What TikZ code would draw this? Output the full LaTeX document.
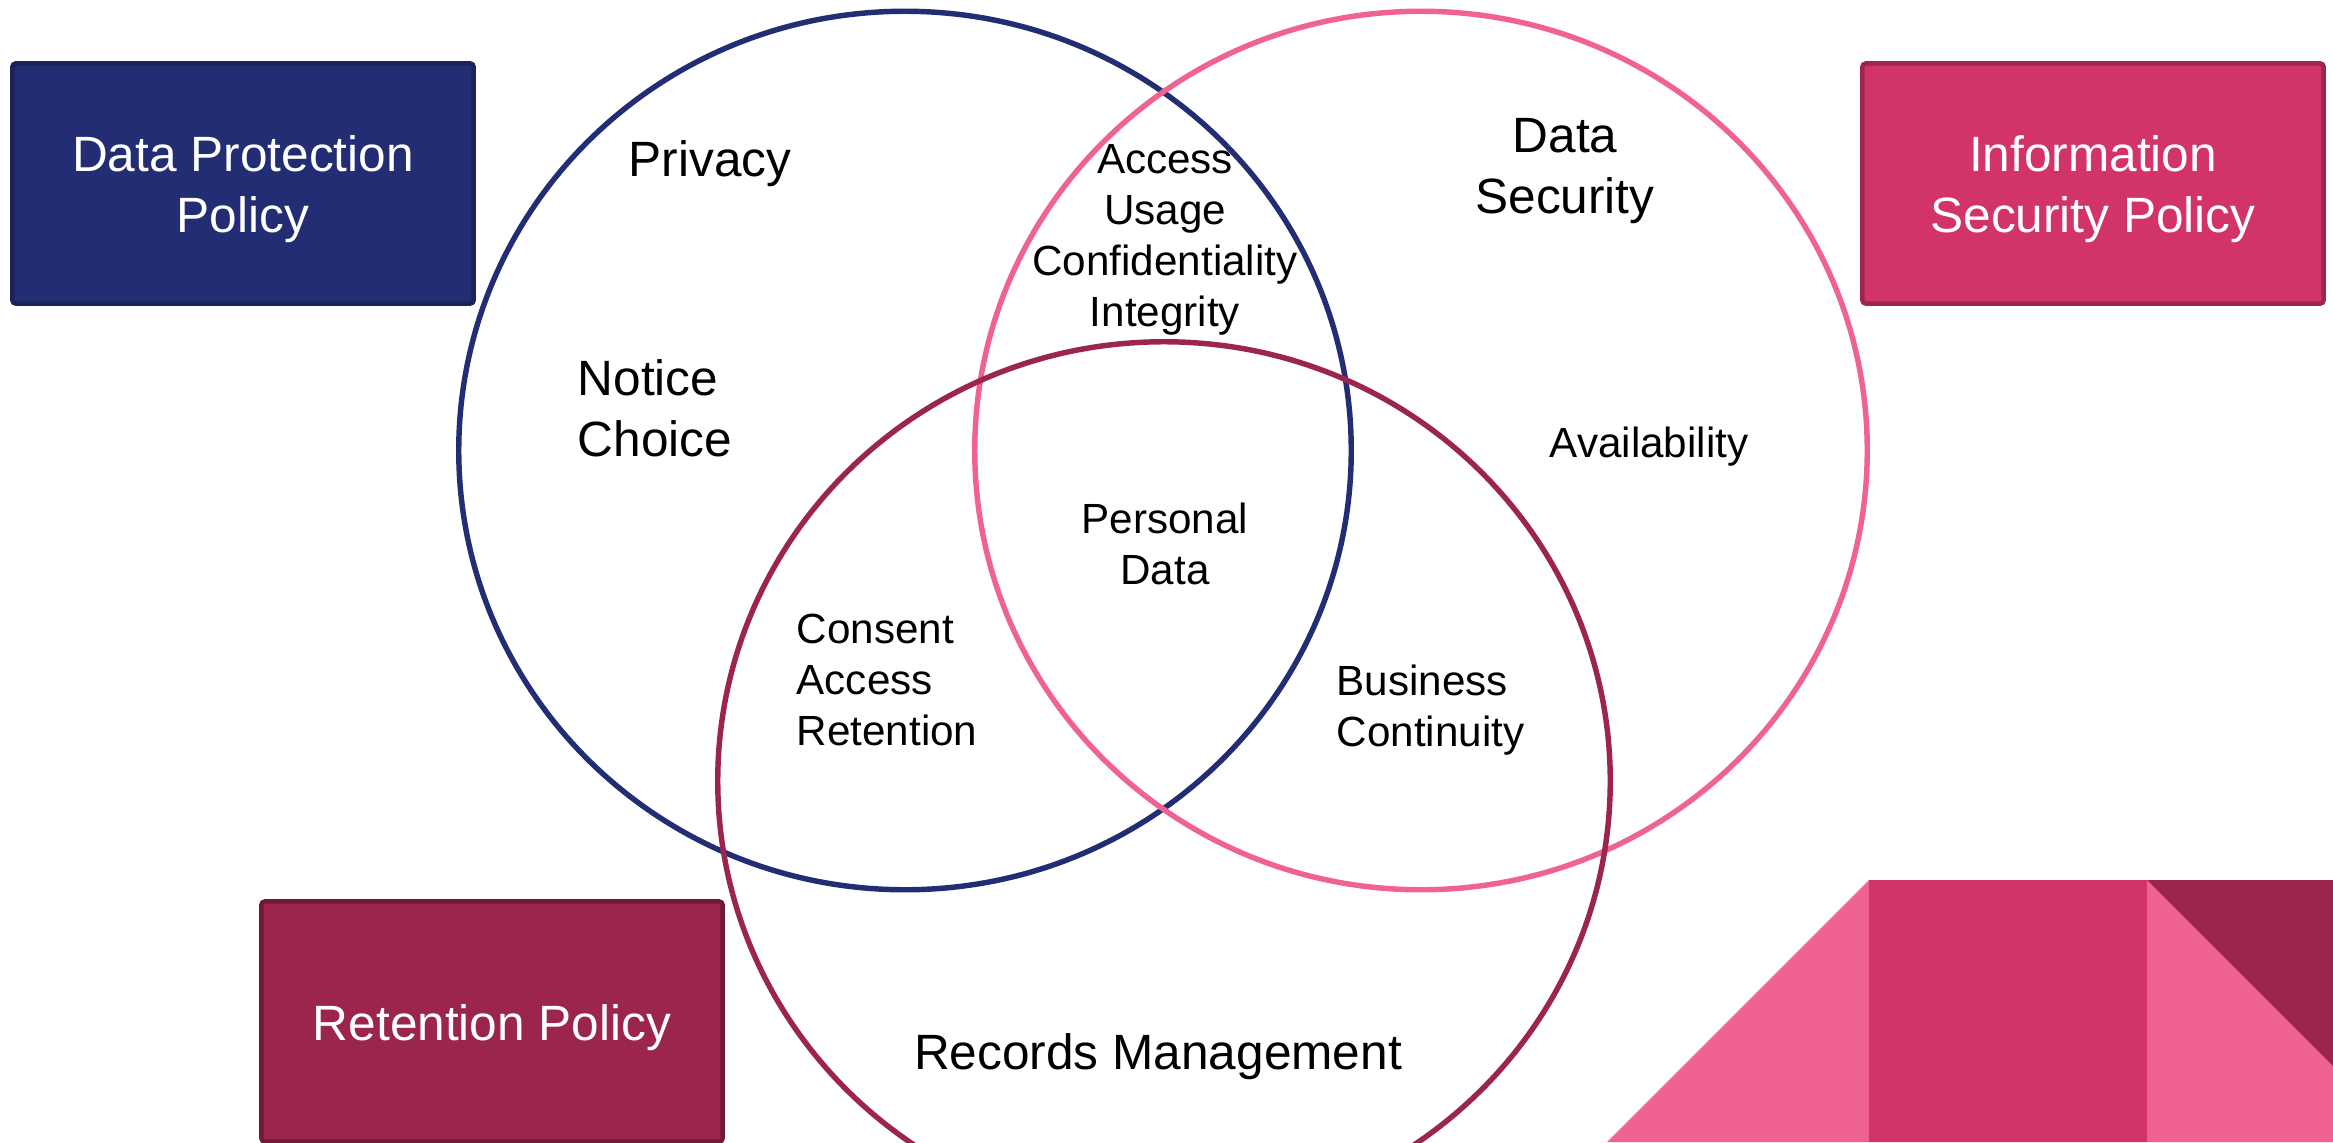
\documentclass[tikz,border=0pt]{standalone}
\usepackage{fontspec}
\setmainfont{Liberation Sans}
\definecolor{navy}{HTML}{222D73}
\definecolor{navyline}{HTML}{1B2358}
\definecolor{rose}{HTML}{D23468}
\definecolor{roseline}{HTML}{9E2551}
\definecolor{wine}{HTML}{9C254C}
\definecolor{wineline}{HTML}{701A38}
\definecolor{lightpink}{HTML}{F06292}
\begin{document}
\begin{tikzpicture}[x=0.01cm,y=-0.01cm,
  big/.style={font=\fontsize{14.1}{17.3}\selectfont, inner sep=0pt, align=center},
  small/.style={font=\fontsize{12}{14.5}\selectfont, inner sep=0pt, align=center},
  policy/.style={draw, line width=1.3pt, rounded corners=1pt, minimum width=4.61cm, minimum height=2.40cm},
  policytext/.style={text=white, font=\fontsize{14.1}{17.3}\selectfont, align=center, inner sep=0pt},
  ring/.style={line width=1.55pt}]
\useasboundingbox (0,0) rectangle (2333,1142);
\clip (0,0) rectangle (2333,1142);
% decorative shape bottom right
\fill[lightpink] (1607,1142) -- (1869,880) -- (2333,880) -- (2333,1142) -- cycle;
\fill[rose] (1869,880) rectangle (2147,1142);
\fill[wine] (2147,880) -- (2333,880) -- (2333,1066) -- cycle;
% policy boxes
\node[policy, fill=navy, draw=navyline] (dpp) at (243,183.5) {};
\node[policy, fill=rose, draw=roseline] (isp) at (2093,183.5) {};
\node[policy, fill=wine, draw=wineline] (rp) at (492,1021.5) {};
\node[policytext] (dpptext) at (243,189) {Data Protection\\Policy};
\node[policytext] (isptext) at (2093,189) {Information\\Security Policy};
\node[policytext] (rptext) at (492,1028) {Retention Policy};
% circles
\draw[ring, draw=navy] (905,450.5) ellipse [x radius=4.46cm, y radius=4.39cm];
\draw[ring, draw=lightpink] (1421,450.5) ellipse [x radius=4.46cm, y radius=4.39cm];
\draw[ring, draw=wine] (1164,781) ellipse [x radius=4.46cm, y radius=4.39cm];
% texts
\node[big] (privacy) at (710,164) {Privacy};
\node[big, anchor=west, align=left] (notice) at (577,408) {Notice\\Choice};
\node[small] (access) at (1165,240) {Access\\Usage\\Confidentiality\\Integrity};
\node[big] (dsec) at (1565,171) {Data\\Security};
\node[small] (avail) at (1649,447) {Availability};
\node[small] (pdata) at (1165,544) {Personal\\Data};
\node[small, anchor=west, align=left] (consent) at (796,680) {Consent\\Access\\Retention};
\node[small, anchor=west, align=left] (bc) at (1336,710) {Business\\Continuity};
\node[big] (rm) at (1158,1057) {Records Management};
\end{tikzpicture}
\end{document}
